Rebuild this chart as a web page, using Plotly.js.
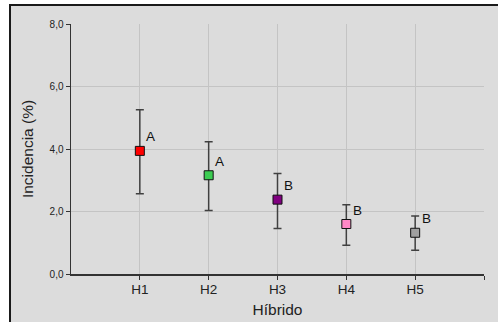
<!DOCTYPE html>
<html>
<head>
<meta charset="utf-8">
<script src="https://cdn.plot.ly/plotly-3.0.1.min.js"></script>
<style>
  html, body { margin: 0; padding: 0; background: #ffffff; width: 498px; height: 322px; overflow: hidden; }
  #frame { position: absolute; left: 9px; top: 4px; border-left: 2px solid #1a1a1a; border-top: 2px solid #1a1a1a; background: #dcdcdc; }
  #chart { width: 487px; height: 316px; }
</style>
</head>
<body>
<div id="frame"><div id="chart"></div></div>
<script>
const categories = ['H1', 'H2', 'H3', 'H4', 'H5'];
const means = [3.94, 3.16, 2.38, 1.60, 1.32];
const upper = [5.26, 4.23, 3.22, 2.22, 1.86];
const lower = [2.57, 2.03, 1.46, 0.92, 0.76];
const letters = ['A', 'A', 'B', 'B', 'B'];
const colors = ['#ff0000', '#3ccd52', '#800080', '#ff88c6', '#a0a0a0'];

const xpos = categories.map((c, i) => i + 1);
const errPlus = upper.map((u, i) => u - means[i]);
const errMinus = means.map((m, i) => m - lower[i]);

const trace = {
  type: 'scatter',
  mode: 'markers',
  x: xpos,
  y: means,
  text: categories,
  marker: { symbol: 'square', size: 9, color: colors, line: { color: '#111111', width: 1 } },
  error_y: { type: 'data', symmetric: false, array: errPlus, arrayminus: errMinus, color: '#404040', thickness: 1.5, width: 4 },
  hoverinfo: 'text+y',
  showlegend: false
};

const annotations = letters.map((t, i) => ({
  x: xpos[i], y: means[i], xref: 'x', yref: 'y', text: t, showarrow: false,
  xshift: 11, yshift: 14, font: { family: 'Liberation Sans, Arial, sans-serif', size: 13.5, color: '#111111' }
}));

const layout = {
  width: 487, height: 316,
  margin: { l: 60, r: 14, t: 18, b: 48 },
  paper_bgcolor: '#dcdcdc',
  plot_bgcolor: '#dcdcdc',
  separators: ',.',
  font: { family: 'Liberation Sans, Arial, sans-serif', color: '#222222' },
  xaxis: {
    range: [0, 6],
    tickmode: 'array',
    tickvals: xpos.concat([6]),
    ticktext: categories.concat(['']),
    showgrid: true, gridcolor: '#c4c4c4', gridwidth: 1,
    showline: true, linecolor: '#333333', linewidth: 1.5,
    ticks: 'outside', ticklen: 4, tickcolor: '#333333', tickwidth: 1,
    ticklabelstandoff: -2,
    zeroline: false,
    tickfont: { size: 13.5, color: '#222222' },
    title: { text: 'Híbrido', font: { size: 15.5, color: '#222222' }, standoff: 8 }
  },
  yaxis: {
    range: [0, 8],
    tickmode: 'linear', tick0: 0, dtick: 2,
    tickformat: '.1f',
    showgrid: true, gridcolor: '#c4c4c4', gridwidth: 1,
    showline: true, linecolor: '#333333', linewidth: 1.5,
    ticks: 'outside', ticklen: 4, tickcolor: '#333333', tickwidth: 1,
    zeroline: false,
    tickfont: { size: 10, color: '#222222' },
    title: { text: 'Incidencia (%)', font: { size: 15.5, color: '#222222' }, standoff: 12 }
  },
  annotations: annotations
};

Plotly.newPlot('chart', [trace], layout, { displayModeBar: false, staticPlot: true });
</script>
</body>
</html>
